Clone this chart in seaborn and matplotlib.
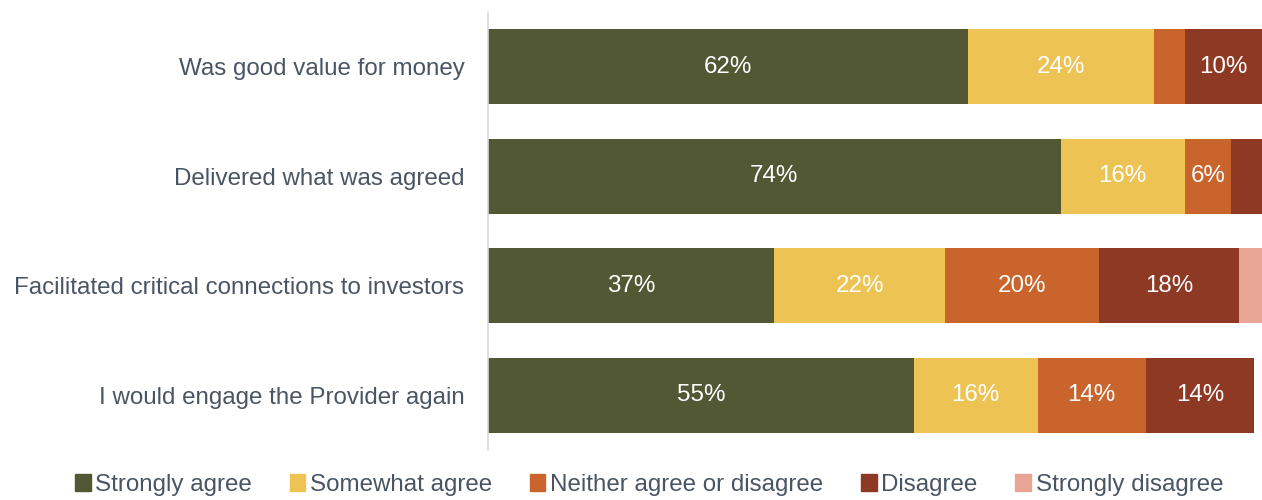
import matplotlib
matplotlib.use("Agg")
import matplotlib.pyplot as plt
import seaborn as sns
import pandas as pd
import numpy as np

statements = [
    "Was good value for money",
    "Delivered what was agreed",
    "Facilitated critical connections to investors",
    "I would engage the Provider again",
]
responses = ["Strongly agree", "Somewhat agree", "Neither agree or disagree",
             "Disagree", "Strongly disagree"]
strongly_agree = [62, 74, 37, 55]
somewhat_agree = [24, 16, 22, 16]
neither = [4, 6, 20, 14]
disagree = [10, 4, 18, 14]
strongly_disagree = [0, 0, 3, 0]
# values that get a label inside the bar (None = unlabeled)
shown = {
    "Strongly agree": [62, 74, 37, 55],
    "Somewhat agree": [24, 16, 22, 16],
    "Neither agree or disagree": [None, 6, 20, 14],
    "Disagree": [10, None, 18, 14],
    "Strongly disagree": [None, None, None, None],
}
colors = ["#525734", "#EDC454", "#C8642C", "#8E3924", "#E8A495"]

df = pd.DataFrame({
    "Statement": statements,
    "Strongly agree": strongly_agree,
    "Somewhat agree": somewhat_agree,
    "Neither agree or disagree": neither,
    "Disagree": disagree,
    "Strongly disagree": strongly_disagree,
})

sns.set_theme(style="white")
plt.rcParams["font.family"] = ["Liberation Sans", "DejaVu Sans"]
text_color = "#4A5563"
fs = 17.4

fig = plt.figure(figsize=(12.62, 5.0), dpi=100)
ax = fig.add_axes([488 / 1262, 0.1, 1 - 488 / 1262, 0.876])

# stacked bars: each segment drawn as a cumulative bar, earlier ones in front
left = np.zeros(len(statements))
for k, (resp, col) in enumerate(zip(responses, colors)):
    vals = df[resp].to_numpy(dtype=float)
    sns.barplot(x=vals + left, y=df["Statement"], color=col, orient="h",
                width=0.685, ax=ax, saturation=1, linewidth=0)
    for p in ax.containers[-1]:
        p.set_zorder(10 - k)
    for i, (v, s) in enumerate(zip(vals, shown[resp])):
        if s is not None:
            ax.text(left[i] + v / 2, i, f"{s}%", ha="center", va="center",
                    color="white", fontsize=fs, zorder=30)
    left += vals

ax.set_xlim(0, 100)
ax.set_ylim(3.5, -0.5)
ax.set_xlabel("")
ax.set_ylabel("")
ax.set_xticks([])
ax.tick_params(axis="y", length=0, pad=17, labelsize=fs, labelcolor=text_color)
for s in ["top", "right", "bottom"]:
    ax.spines[s].set_visible(False)
ax.spines["left"].set_color("#D9D9D9")
ax.spines["left"].set_linewidth(1.2)
ax.spines["left"].set_zorder(20)

handles = [plt.Rectangle((0, 0), 1, 1, color=c) for c in colors]
if ax.get_legend() is not None:
    ax.get_legend().remove()
fig.legend(handles, responses, loc="center", bbox_to_anchor=(649 / 1262, 1 - 485 / 500),
           ncol=5, frameon=False, fontsize=fs, labelcolor=text_color,
           handlelength=0.65, handleheight=0.65, handletextpad=0.2,
           columnspacing=1.55, borderaxespad=0)

fig.savefig("out.png", dpi=100)
